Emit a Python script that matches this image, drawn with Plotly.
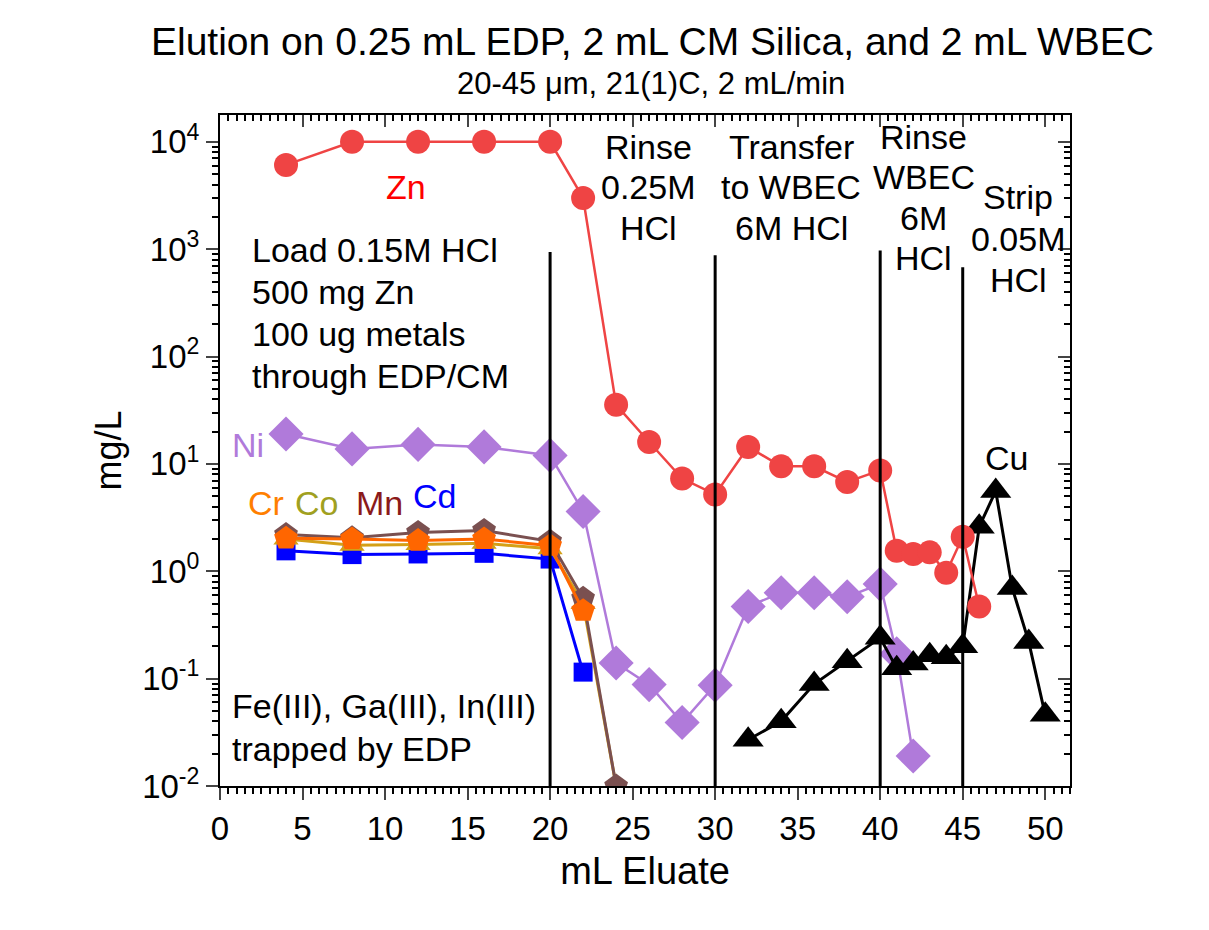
import plotly.graph_objects as go

# ---------------- data ----------------
zn_x = [4, 8, 12, 16, 20, 22, 24, 26, 28, 30, 32, 34, 36, 38, 40, 41, 42, 43, 44, 45, 46]
zn_y = [6100, 10000, 10000, 10000, 10000, 3000, 35.5, 16, 7.3, 5.2, 14.4, 9.5, 9.5, 6.8, 8.7,
        1.55, 1.45, 1.5, 0.97, 2.1, 0.47]

ni_x = [4, 8, 12, 16, 20, 22, 24, 26, 28, 30, 32, 34, 36, 38, 40, 41, 42]
ni_y = [19, 13.8, 15.2, 14.4, 12, 3.6, 0.14, 0.088, 0.039, 0.087, 0.47, 0.63, 0.63, 0.58, 0.76, 0.17, 0.019]

cd_x = [4, 8, 12, 16, 20, 22]
cd_y = [1.55, 1.43, 1.45, 1.47, 1.3, 0.115]

co_x = [4, 8, 12, 16, 20, 22, 24]
co_y = [2.0, 1.75, 1.78, 1.82, 1.62, 0.5, 0.01]

mn_x = [4, 8, 12, 16, 20, 22, 24]
mn_y = [2.2, 2.05, 2.3, 2.4, 1.9, 0.56, 0.01]

cr_x = [4, 8, 12, 16, 20, 22]
cr_y = [2.03, 2.0, 1.93, 2.0, 1.73, 0.43]

cu_x = [32, 34, 36, 38, 40, 41, 42, 43, 44, 45, 46, 47, 48, 49, 50]
cu_y = [0.027, 0.040, 0.089, 0.145, 0.24, 0.125, 0.138, 0.165, 0.158, 0.2, 2.6, 5.6, 0.70, 0.22, 0.046]

divider_x = [20, 30, 40, 45]
divider_top = [944, 880, 975, 680]
divider_bottom = 0.01

x_ticks = [0, 5, 10, 15, 20, 25, 30, 35, 40, 45, 50]
y_tickvals = [0.01, 0.1, 1, 10, 100, 1000, 10000]
y_ticktext = ["10<sup>-2</sup>", "10<sup>-1</sup>", "10<sup>0</sup>", "10<sup>1</sup>",
              "10<sup>2</sup>", "10<sup>3</sup>", "10<sup>4</sup>"]

FONT = "Liberation Sans, Arial, sans-serif"

fig = go.Figure()

def add_series(x, y, color, symbol, size, lw=2.5):
    fig.add_trace(go.Scatter(
        x=x, y=y, mode="lines+markers",
        line=dict(color=color, width=lw),
        marker=dict(color=color, symbol=symbol, size=size, line=dict(width=0)),
        showlegend=False, cliponaxis=True))

add_series(cd_x, cd_y, "#0000FF", "square", 19, 3)
add_series(co_x, co_y, "#D4A017", "triangle-up", 22, 3)
add_series(mn_x, mn_y, "#7A5050", "pentagon", 25, 3)
add_series(cr_x, cr_y, "#FF6600", "pentagon", 25, 3)
add_series(ni_x, ni_y, "#B07ADA", "diamond", 27, 2.5)
add_series(cu_x, cu_y, "#000000", "triangle-up", 27, 3)
add_series(zn_x, zn_y, "#EF4444", "circle", 24, 2.5)

# phase dividers
for dx, dt in zip(divider_x, divider_top):
    fig.add_trace(go.Scatter(x=[dx, dx], y=[divider_bottom, dt], mode="lines",
                             line=dict(color="black", width=3), showlegend=False,
                             hoverinfo="skip"))

# empty trace to activate mirror axes
fig.add_trace(go.Scatter(x=[], y=[], xaxis="x2", yaxis="y2", showlegend=False))

XR = [0, 51.5]
YR = [-2, 4.25]

fig.update_layout(
    width=1209, height=930,
    margin=dict(l=220, r=139, t=115, b=144),
    paper_bgcolor="white", plot_bgcolor="white",
    font=dict(family=FONT, color="black", size=30),
    xaxis=dict(range=XR, tickvals=x_ticks, ticks="outside", ticklen=12, tickwidth=2,
               showline=True, linewidth=2, linecolor="black", showgrid=False, zeroline=False,
               tickfont=dict(size=33),
               minor=dict(dtick=0.5, tick0=0, ticks="outside", ticklen=6, tickwidth=1.5,
                          tickcolor="black", showgrid=False),
               title=dict(text="mL Eluate", font=dict(size=38), standoff=12)),
    yaxis=dict(type="log", range=YR, tickvals=y_tickvals, ticktext=y_ticktext,
               ticks="outside", ticklen=12, tickwidth=2,
               showline=True, linewidth=2, linecolor="black", showgrid=False, zeroline=False,
               tickfont=dict(size=33),
               minor=dict(ticks="outside", ticklen=6, tickwidth=1.5, tickcolor="black",
                          dtick="D1", showgrid=False),
               title=dict(text="mg/L", font=dict(size=36), standoff=10)),
    xaxis2=dict(range=XR, overlaying="x", side="top", tickvals=x_ticks, ticks="inside",
                ticklen=12, tickwidth=2, showticklabels=False, showline=True, linewidth=2,
                linecolor="black", showgrid=False, zeroline=False,
                minor=dict(dtick=0.5, tick0=0, ticks="inside", ticklen=6, tickwidth=1.5,
                           tickcolor="black", showgrid=False)),
    yaxis2=dict(type="log", range=YR, overlaying="y", side="right", tickvals=y_tickvals,
                ticks="inside", ticklen=12, tickwidth=2, showticklabels=False, showline=True,
                linewidth=2, linecolor="black", showgrid=False, zeroline=False,
                minor=dict(ticks="inside", ticklen=6, tickwidth=1.5, tickcolor="black",
                           dtick="D1", showgrid=False)),
)

def ann(text, x, y, size=34, color="black", xanchor="center", yanchor="middle",
        xref="x", yref="y"):
    fig.add_annotation(text=text, x=x, y=y, xref=xref, yref=yref, showarrow=False,
                       font=dict(size=size, color=color, family=FONT),
                       xanchor=xanchor, yanchor=yanchor)

def block(lines, x, ys, xanchor="center", size=34):
    for t, yy in zip(lines, ys):
        ann(t, x, yy, size=size, xanchor=xanchor)

# titles
ann("Elution on 0.25 mL EDP, 2 mL CM Silica, and 2 mL WBEC", 0.509, 1.109, size=39,
    xref="paper", yref="paper")
ann("20-45 μm, 21(1)C, 2 mL/min", 0.507, 1.047, size=31, xref="paper", yref="paper")

# phase labels
block(["Rinse", "0.25M", "HCl"], 25.98, [3.953, 3.579, 3.196])
block(["Transfer", "to WBEC", "6M HCl"], 34.6, [3.953, 3.579, 3.196])
block(["Rinse", "WBEC", "6M", "HCl"], 42.64, [4.042, 3.673, 3.290, 2.916])
block(["Strip", "0.05M", "HCl"], 48.36, [3.486, 3.093, 2.715])

block(["Load 0.15M HCl", "500 mg Zn", "100 ug metals", "through EDP/CM"], 1.82,
      [2.991, 2.598, 2.206, 1.822], xanchor="left")
block(["Fe(III), Ga(III), In(III)", "trapped by EDP"], 0.6, [-1.252, -1.659], xanchor="left")

# series labels
ann("Zn", 11.26, 3.582, color="#FF0000")
ann("Ni", 1.7, 1.173, color="#B07ADA")
ann("Cr", 2.78, 0.640, color="#FF7F00")
ann("Co", 5.86, 0.640, color="#A0A020")
ann("Mn", 9.64, 0.640, color="#8B1A1A")
ann("Cd", 12.97, 0.701, color="#0000FF")
ann("Cu", 47.68, 1.056, color="#000000")

fig.write_html("out.html")
